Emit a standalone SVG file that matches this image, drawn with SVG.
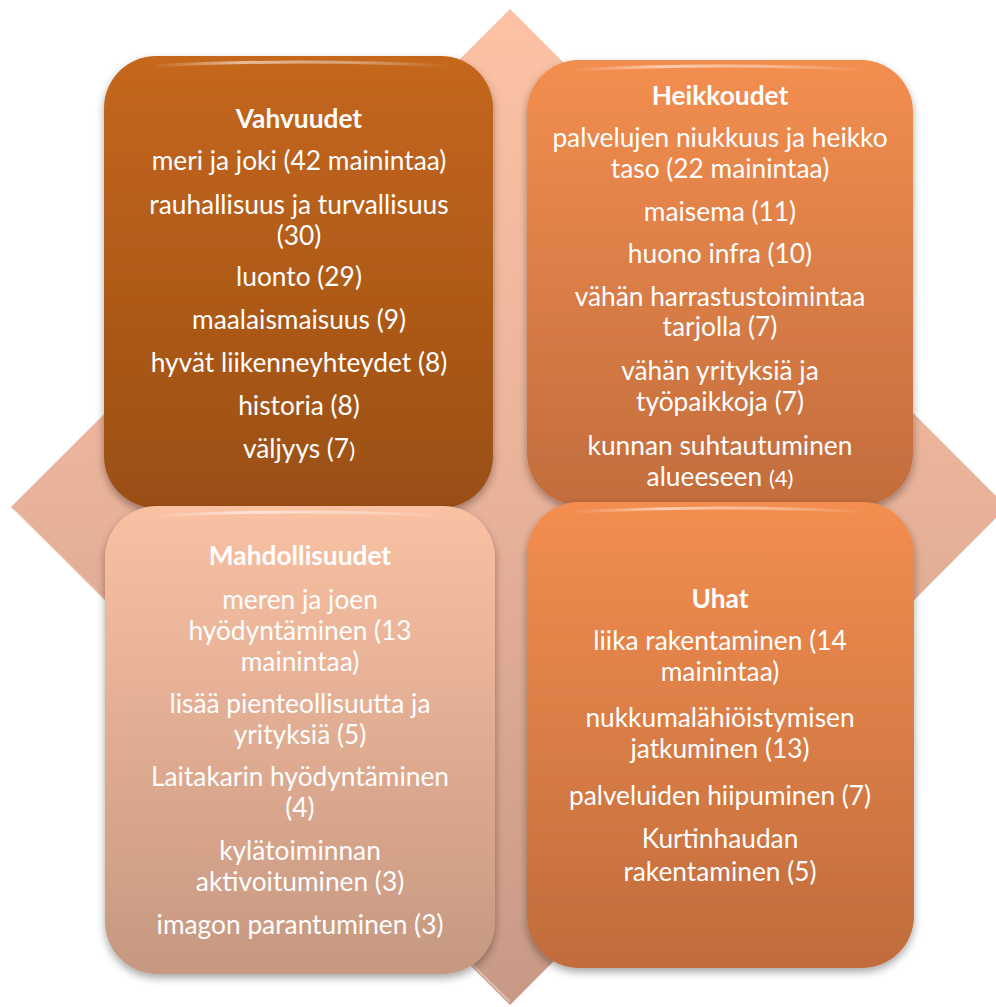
<svg xmlns="http://www.w3.org/2000/svg" width="996" height="1007" viewBox="0 0 996 1007">
  <defs>
    <linearGradient id="gDia" x1="0" y1="0" x2="0" y2="1">
      <stop offset="0" stop-color="#fdc2a4"/>
      <stop offset="0.5" stop-color="#e8b29a"/>
      <stop offset="1" stop-color="#c79985"/>
    </linearGradient>
    <linearGradient id="gV" x1="0" y1="0" x2="0" y2="1">
      <stop offset="0" stop-color="#c5671d"/>
      <stop offset="1" stop-color="#9a4f15"/>
    </linearGradient>
    <linearGradient id="gH" x1="0" y1="0" x2="0" y2="1">
      <stop offset="0" stop-color="#f38e50"/>
      <stop offset="1" stop-color="#c26d3d"/>
    </linearGradient>
    <linearGradient id="gM" x1="0" y1="0" x2="0" y2="1">
      <stop offset="0" stop-color="#fac1a3"/>
      <stop offset="1" stop-color="#c69881"/>
    </linearGradient>
    <linearGradient id="gU" x1="0" y1="0" x2="0" y2="1">
      <stop offset="0" stop-color="#f38e50"/>
      <stop offset="1" stop-color="#c06c3c"/>
    </linearGradient>
    <linearGradient id="gHi" x1="0" y1="0" x2="1" y2="0">
      <stop offset="0" stop-color="#ffffff" stop-opacity="0"/>
      <stop offset="0.3" stop-color="#ffffff" stop-opacity="0.55"/>
      <stop offset="0.7" stop-color="#ffffff" stop-opacity="0.35"/>
      <stop offset="1" stop-color="#ffffff" stop-opacity="0"/>
    </linearGradient>
    <filter id="sh" x="-10%" y="-10%" width="120%" height="120%">
      <feGaussianBlur in="SourceAlpha" stdDeviation="4"/>
      <feOffset dx="0" dy="4" result="b"/>
      <feComponentTransfer><feFuncA type="linear" slope="0.35"/></feComponentTransfer>
      <feMerge><feMergeNode/><feMergeNode in="SourceGraphic"/></feMerge>
    </filter>
  </defs>
  <style>
    .t { font-family: Lato, "Liberation Sans", sans-serif; font-size: 26.3px; fill: #ffffff; text-anchor: middle; }
    .h { font-weight: bold; }
    .s { font-size: 22px; }
    .hi { fill: none; stroke: url(#gHi); stroke-width: 3; stroke-linecap: round; }
  </style>

  <g id="background">
    <polygon points="510,9 1007,507 510,1005 11,507" fill="url(#gDia)"/>
    <polyline points="14,510 510,1002" fill="none" stroke="#ffffff" stroke-opacity="0.35" stroke-width="2"/>
  </g>

  <g id="vahvuudet">
    <rect x="104" y="56" width="389" height="452" rx="52" fill="url(#gV)" filter="url(#sh)"/>
    <path class="hi" d="M150,66 Q300,58 450,66"/>
    <text class="t h" x="299" y="128">Vahvuudet</text>
    <text class="t" x="299" y="170">meri ja joki (42 mainintaa)</text>
    <text class="t" x="299" y="214">rauhallisuus ja turvallisuus</text>
    <text class="t" x="299" y="245">(30)</text>
    <text class="t" x="299" y="286">luonto (29)</text>
    <text class="t" x="299" y="329">maalaismaisuus (9)</text>
    <text class="t" x="299" y="372">hyvät liikenneyhteydet (8)</text>
    <text class="t" x="299" y="415">historia (8)</text>
    <text class="t" x="299" y="458">väljyys (7<tspan class="s">)</tspan></text>
  </g>

  <g id="heikkoudet">
    <rect x="527" y="60" width="386" height="445" rx="52" fill="url(#gH)" filter="url(#sh)"/>
    <path class="hi" d="M573,70 Q720,62 867,70"/>
    <text class="t h" x="720" y="105">Heikkoudet</text>
    <text class="t" x="720" y="147">palvelujen niukkuus ja heikko</text>
    <text class="t" x="720" y="178">taso (22 mainintaa)</text>
    <text class="t" x="720" y="221">maisema (11)</text>
    <text class="t" x="720" y="263">huono infra (10)</text>
    <text class="t" x="720" y="306">vähän harrastustoimintaa</text>
    <text class="t" x="720" y="336">tarjolla (7)</text>
    <text class="t" x="720" y="380">vähän yrityksiä ja</text>
    <text class="t" x="720" y="411">työpaikkoja (7)</text>
    <text class="t" x="720" y="455">kunnan suhtautuminen</text>
    <text class="t" x="720" y="486">alueeseen <tspan class="s">(4)</tspan></text>
  </g>

  <g id="mahdollisuudet">
    <rect x="105" y="506" width="390" height="468" rx="52" fill="url(#gM)" filter="url(#sh)"/>
    <path class="hi" d="M151,516 Q300,508 449,516"/>
    <text class="t h" x="300" y="565">Mahdollisuudet</text>
    <text class="t" x="300" y="609">meren ja joen</text>
    <text class="t" x="300" y="640">hyödyntäminen (13</text>
    <text class="t" x="300" y="671">mainintaa)</text>
    <text class="t" x="300" y="713">lisää pienteollisuutta ja</text>
    <text class="t" x="300" y="744">yrityksiä (5)</text>
    <text class="t" x="300" y="786">Laitakarin hyödyntäminen</text>
    <text class="t" x="300" y="817">(4)</text>
    <text class="t" x="300" y="860">kylätoiminnan</text>
    <text class="t" x="300" y="891">aktivoituminen (3)</text>
    <text class="t" x="300" y="934">imagon parantuminen (3)</text>
  </g>

  <g id="uhat">
    <rect x="527" y="502" width="387" height="466" rx="52" fill="url(#gU)" filter="url(#sh)"/>
    <path class="hi" d="M573,512 Q720,504 868,512"/>
    <text class="t h" x="720" y="608">Uhat</text>
    <text class="t" x="720" y="650">liika rakentaminen (14</text>
    <text class="t" x="720" y="681">mainintaa)</text>
    <text class="t" x="720" y="727">nukkumalähiöistymisen</text>
    <text class="t" x="720" y="758">jatkuminen (13)</text>
    <text class="t" x="720" y="805">palveluiden hiipuminen (7)</text>
    <text class="t" x="720" y="848">Kurtinhaudan</text>
    <text class="t" x="720" y="881">rakentaminen (5)</text>
  </g>

  <g id="connectors"/>
</svg>
